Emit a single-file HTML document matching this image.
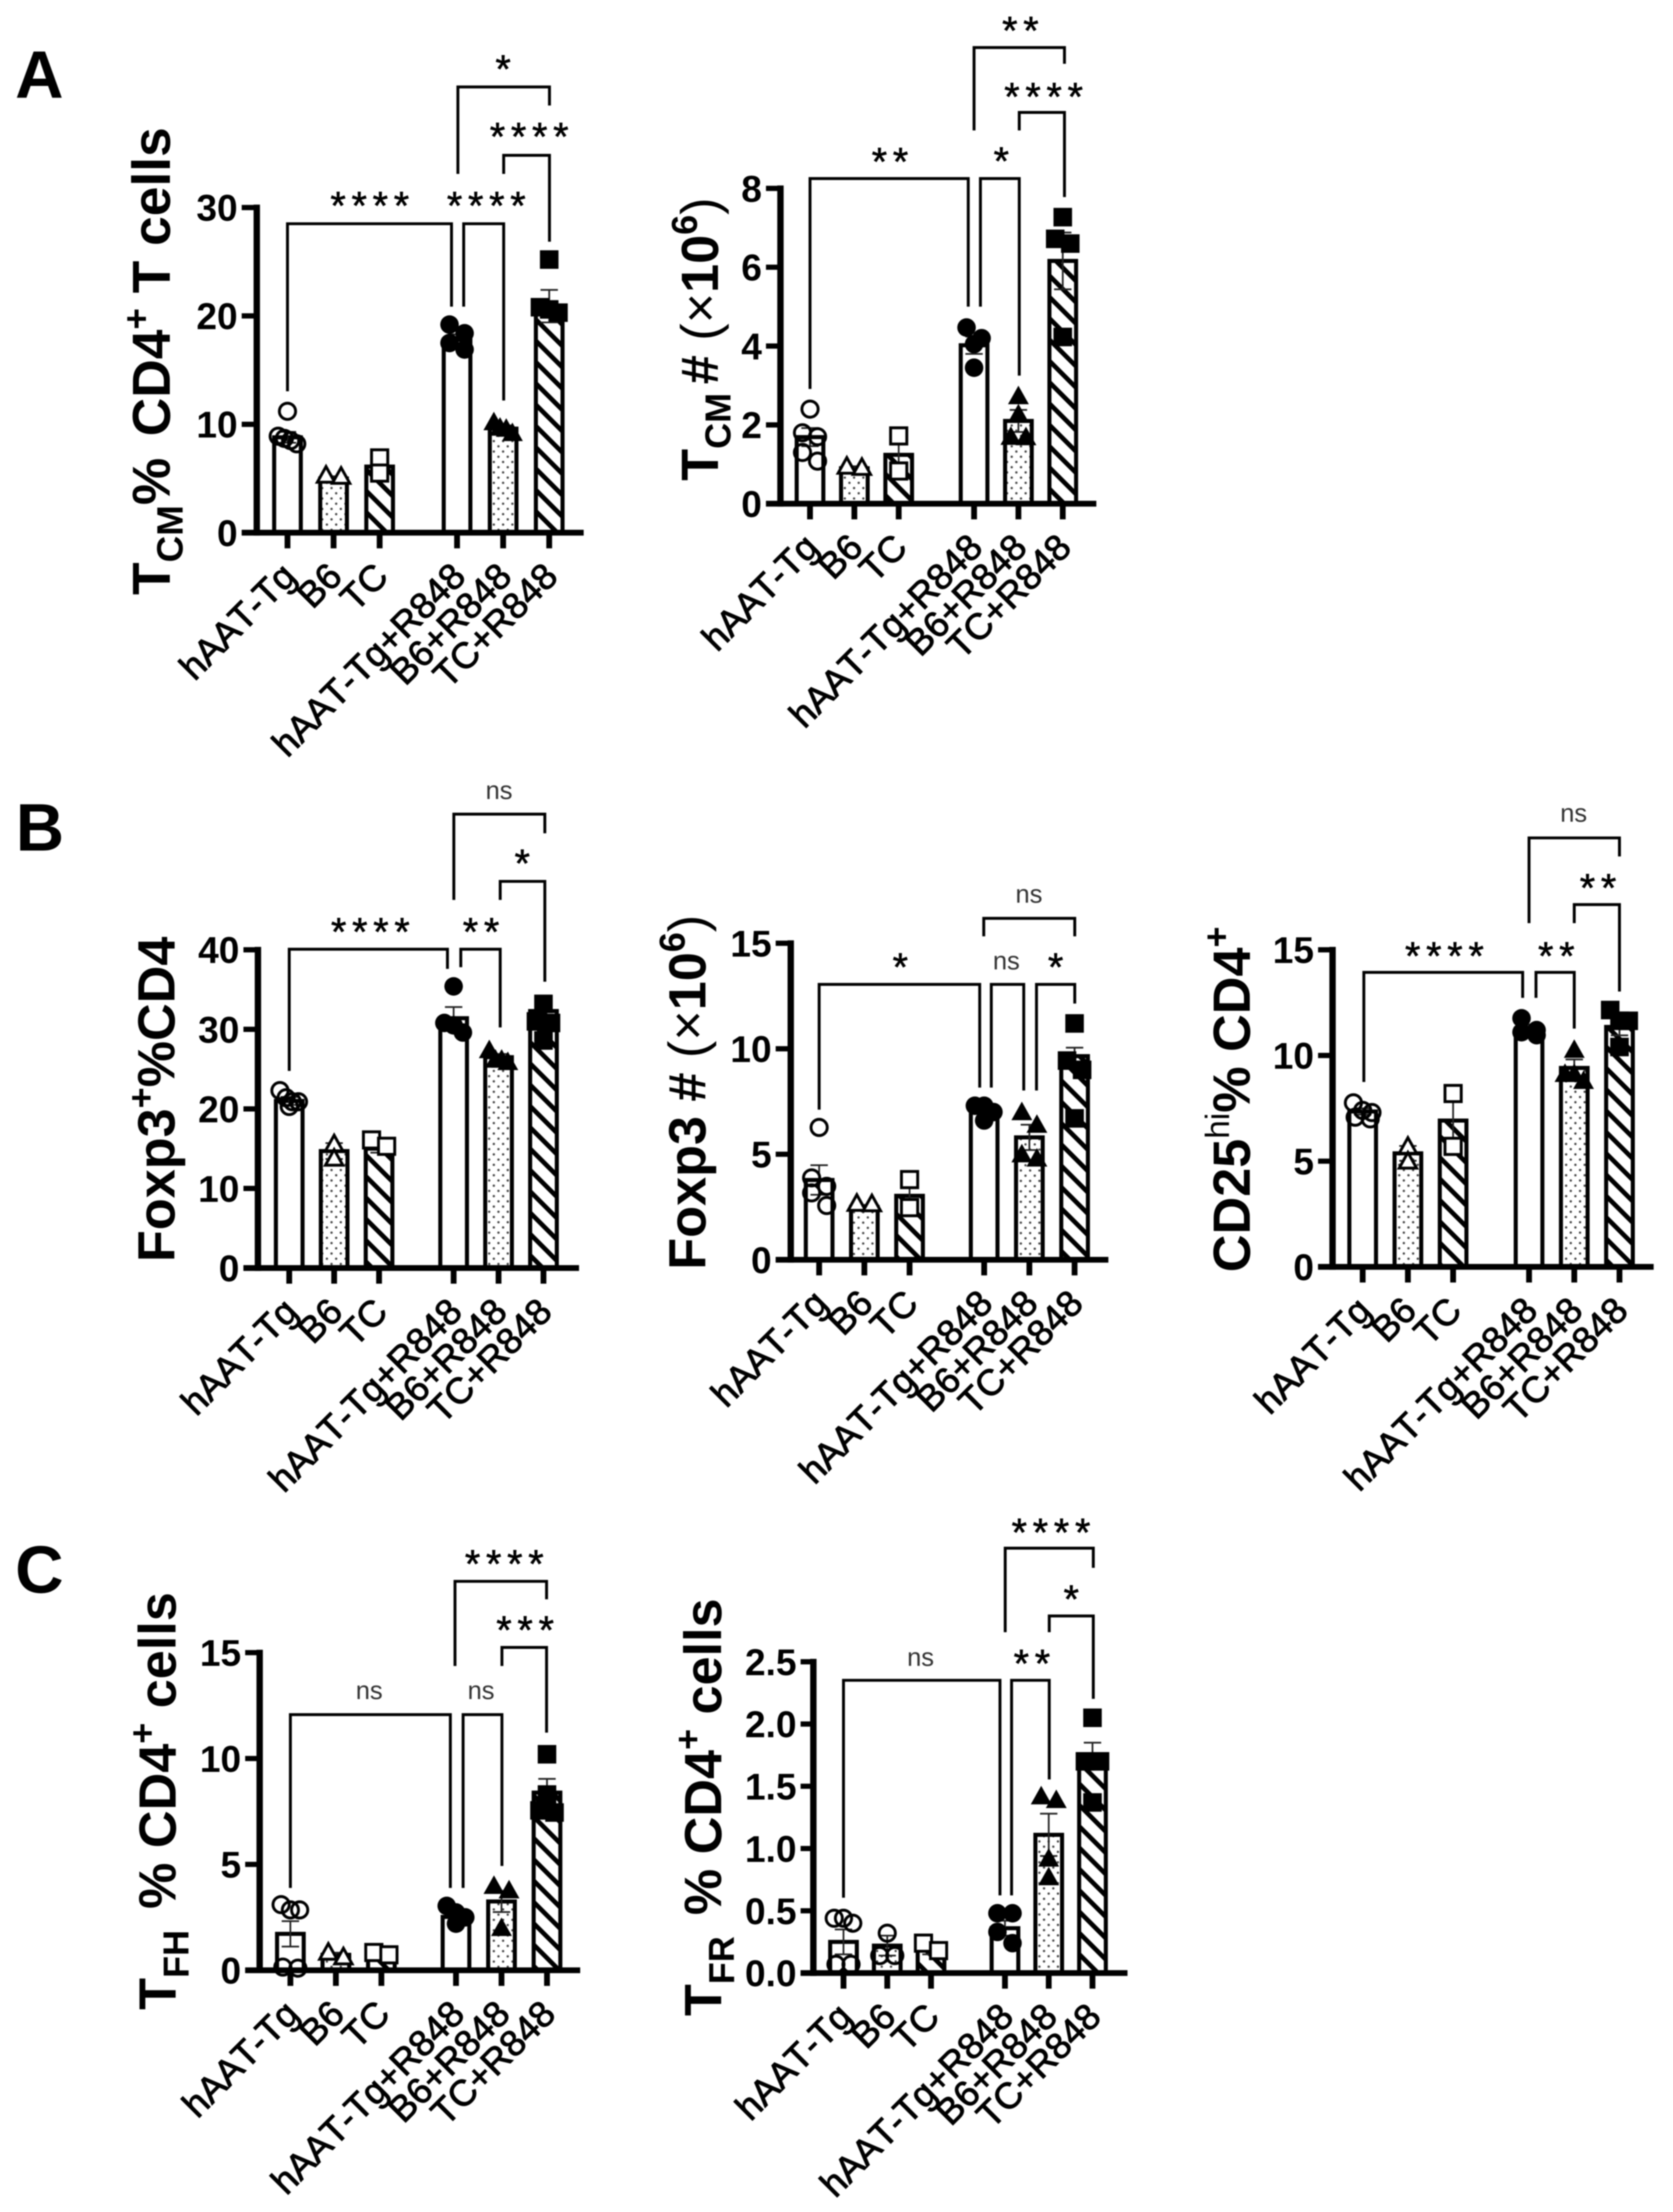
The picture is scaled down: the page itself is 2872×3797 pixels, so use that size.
<!DOCTYPE html>
<html lang="en">
<head>
<meta charset="utf-8">
<title>T cell subset bar charts</title>
<style>
html,body{margin:0;padding:0;background:#fff;}
#figure{display:block;width:2872px;height:3797px;filter:blur(1px);font-family:"Liberation Sans",sans-serif;}
</style>
</head>
<body>
<svg id="figure" xmlns="http://www.w3.org/2000/svg" width="2872" height="3797" viewBox="0 0 2872 3797">
  <defs>
    <pattern id="hatch-fill" patternUnits="userSpaceOnUse" width="26" height="26" patternTransform="rotate(-45)">
      <rect x="0" y="0" width="26" height="26" fill="#fff"/>
      <rect x="0" y="0" width="8" height="26" fill="#000"/>
    </pattern>
    <pattern id="dots-fill" patternUnits="userSpaceOnUse" width="16" height="18">
      <rect x="0" y="0" width="16" height="18" fill="#fff"/>
      <circle cx="4" cy="5" r="2" fill="#444"/>
      <circle cx="12" cy="14" r="2" fill="#444"/>
    </pattern>
  </defs>
  <text x="26" y="168" font-size="115" font-weight="bold">A</text>
  <text x="27" y="1460" font-size="115" font-weight="bold">B</text>
  <text x="26" y="2734" font-size="115" font-weight="bold">C</text>
</svg>
<script>
const categories = ['hAAT-Tg', 'B6', 'TC', 'hAAT-Tg+R848', 'B6+R848', 'TC+R848'];

const tcmPercentTicks = ['0', '10', '20', '30'];
const tcmPercentMeans = [8.8, 5.0, 6.1, 17.8, 9.6, 20.9];
const tcmPercentErrors = [0.5, 0.2, 0.7, 0.5, 0.3, 1.5];
const tcmPercentPoints = [
  [11.2, 8.9, 8.7, 8.5, 8.2],
  [5.3, 5.2],
  [6.9, 5.5],
  [19.2, 18.4, 17.5, 16.9],
  [10.2, 9.7, 9.6, 9.2],
  [25.2, 20.8, 20.6, 20.3]
];

const tcmCountTicks = ['0', '2', '4', '6', '8'];
const tcmCountMeans = [1.69, 0.9, 1.24, 4.02, 2.1, 6.16];
const tcmCountErrors = [0.23, 0.05, 0.46, 0.22, 0.28, 0.72];
const tcmCountPoints = [
  [2.4, 1.8, 1.7, 1.3, 1.08],
  [0.95, 0.92],
  [1.72, 0.83],
  [4.47, 4.2, 4.05, 3.45],
  [2.73, 2.27, 1.7, 1.69],
  [7.27, 6.72, 6.6, 4.23]
];

const foxp3PercentTicks = ['0', '10', '20', '30', '40'];
const foxp3PercentMeans = [21.0, 14.7, 15.0, 31.4, 26.5, 32.3];
const foxp3PercentErrors = [0.5, 1.0, 0.5, 1.4, 0.4, 1.2];
const foxp3PercentPoints = [
  [22.3, 21.4, 20.9, 20.9, 20.3],
  [15.6, 13.8],
  [16.1, 15.3],
  [35.4, 30.8, 30.5, 29.6],
  [27.4, 26.2, 26.2, 25.9],
  [33.2, 31.0, 30.8, 28.6]
];

const foxp3CountTicks = ['0', '5', '10', '15'];
const foxp3CountMeans = [3.78, 2.5, 3.03, 7.1, 5.8, 9.65];
const foxp3CountErrors = [0.7, 0.1, 0.4, 0.15, 0.6, 0.4];
const foxp3CountPoints = [
  [6.27, 3.88, 3.48, 3.17, 2.57],
  [2.67, 2.65],
  [3.8, 2.47],
  [7.3, 7.3, 7.0, 6.6],
  [7.0, 6.4, 5.0, 4.8],
  [11.2, 9.44, 9.0, 6.7]
];

const cd25Ticks = ['0', '5', '10', '15'];
const cd25Means = [7.35, 5.37, 6.92, 11.26, 9.41, 11.35];
const cd25Errors = [0.15, 0.35, 0.9, 0.2, 0.4, 0.4];
const cd25Points = [
  [7.76, 7.4, 7.3, 7.08, 7.0],
  [5.7, 5.0],
  [8.2, 5.7],
  [11.76, 11.2, 11.1, 10.96],
  [10.27, 9.13, 9.13, 8.8],
  [12.15, 11.64, 11.64, 10.4]
];

const tfhTicks = ['0', '5', '10', '15'];
const tfhMeans = [1.72, 0.73, 0.8, 2.52, 3.25, 8.39];
const tfhErrors = [0.6, 0.1, 0.1, 0.2, 0.5, 0.65];
const tfhPoints = [
  [3.1, 2.85, 2.85, 0.15, 0.1],
  [0.85, 0.63],
  [0.84, 0.73],
  [3.04, 2.73, 2.5, 2.2],
  [3.99, 3.78, 2.0],
  [10.2, 8.3, 7.55, 7.45]
];

const tfrTicks = ['0.0', '0.5', '1.0', '1.5', '2.0', '2.5'];
const tfrMeans = [0.25, 0.22, 0.2, 0.36, 1.11, 1.75];
const tfrErrors = [0.1, 0.08, 0.05, 0.06, 0.17, 0.1];
const tfrPoints = [
  [0.44, 0.44, 0.4, 0.07, 0.07],
  [0.32, 0.14, 0.14],
  [0.24, 0.18],
  [0.48, 0.48, 0.33, 0.24],
  [1.42, 1.39, 0.92, 0.77],
  [2.05, 1.7, 1.7, 1.37]
];

const markerShapes = ['circleOpen', 'triangleOpen', 'squareOpen', 'circle', 'triangle', 'square'];
const tfrMarkerShapes = ['circleOpen', 'circleOpen', 'squareOpen', 'circle', 'triangle', 'square'];
const barFills = ['#fff', 'url(#dots-fill)', 'url(#hatch-fill)', '#fff', 'url(#dots-fill)', 'url(#hatch-fill)'];

const panels = [
  { id: 'tcm-percent', ticks: tcmPercentTicks, means: tcmPercentMeans, errors: tcmPercentErrors, points: tcmPercentPoints, shapes: markerShapes,
    layout: { originX: 0, originY: 0, axisX: 443, top: 358, bottom: 919, tickLeft: 417, right: 1007, x0: 496, step: 79.5, gap: 0.68, titleX: 293, titleY: 623, titleSize: 92 },
    title: [['T','n'],['CM','sub'],['%','n'],[' ','gap'],['CD4','n'],['+','sup'],[' T cells','n']],
    brackets: [
      [496, 779, 386, 675, 529, '****', 638, 344],
      [800, 869, 386, 529, 691, '****', 839, 344],
      [790, 948, 150, 300, 182, '*', 868, 108],
      [869, 948, 268, 300, 417, '****', 913, 225]
    ] },
  { id: 'tcm-count', ticks: tcmCountTicks, means: tcmCountMeans, errors: tcmCountErrors, points: tcmCountPoints, shapes: markerShapes,
    layout: { originX: 1100, originY: 0, axisX: 1341, top: 325, bottom: 869, tickLeft: 1316, right: 1886, x0: 1392, step: 76.5, gap: 0.7, titleX: 1233, titleY: 585, titleSize: 90 },
    title: [['T','n'],['CM','sub'],[' ','thin'],['# ','n'],['(×','r'],['10','n'],['6','sup'],[')','r']],
    brackets: [
      [1392, 1665, 308, 671, 529, '**', 1530, 268],
      [1686, 1753, 308, 529, 648, '*', 1722, 267],
      [1675, 1831, 82, 225, 110, '**', 1755, 42],
      [1753, 1831, 194, 225, 340, '****', 1795, 156]
    ] },
  { id: 'foxp3-percent', ticks: foxp3PercentTicks, means: foxp3PercentMeans, errors: foxp3PercentErrors, points: foxp3PercentPoints, shapes: markerShapes,
    layout: { originX: 0, originY: 1300, axisX: 445, top: 1632, bottom: 2181, tickLeft: 420, right: 999, x0: 499, step: 77.5, gap: 0.66, titleX: 301, titleY: 1890, titleSize: 90 },
    title: [['Foxp3','n'],['+','sup'],['%CD4','n']],
    brackets: [
      [499, 772, 1631, 1841, 1665, '****', 639, 1590],
      [795, 863, 1631, 1662, 1766, '**', 830, 1590],
      [783, 940, 1398, 1546, 1431, 'ns', 861, 1357],
      [863, 940, 1514, 1546, 1687, '*', 901, 1472]
    ] },
  { id: 'foxp3-count', ticks: foxp3CountTicks, means: foxp3CountMeans, errors: foxp3CountErrors, points: foxp3CountPoints, shapes: markerShapes,
    layout: { originX: 1050, originY: 1450, axisX: 1359, top: 1620, bottom: 2166, tickLeft: 1333, right: 1907, x0: 1408, step: 78, gap: 0.65, titleX: 1212, titleY: 1877, titleSize: 90 },
    title: [['Foxp3 # ','n'],['(×','r'],['10','n'],['6','sup'],[')','r']],
    brackets: [
      [1408, 1685, 1691, 1907, 1869, '*', 1548, 1650],
      [1705, 1761, 1691, 1869, 1874, 'ns', 1731, 1650],
      [1783, 1849, 1691, 1874, 1724, '*', 1816, 1650],
      [1692, 1849, 1577, 1608, 1608, 'ns', 1770, 1535]
    ] },
  { id: 'cd25-percent', ticks: cd25Ticks, means: cd25Means, errors: cd25Errors, points: cd25Points, shapes: markerShapes,
    layout: { originX: 2000, originY: 1300, axisX: 2289, top: 1632, bottom: 2179, tickLeft: 2264, right: 2843, x0: 2341, step: 78, gap: 0.68, titleX: 2146, titleY: 1890, titleSize: 90 },
    title: [['CD25','n'],['hi','supr'],['% CD4','n'],['+','sup']],
    brackets: [
      [2343, 2617, 1671, 1860, 1715, '****', 2482, 1632],
      [2640, 2706, 1671, 1715, 1768, '**', 2675, 1632],
      [2628, 2784, 1439, 1586, 1471, 'ns', 2705, 1396],
      [2706, 2784, 1554, 1586, 1704, '**', 2747, 1514]
    ] },
  { id: 'tfh-percent', ticks: tfhTicks, means: tfhMeans, errors: tfhErrors, points: tfhPoints, shapes: markerShapes,
    layout: { originX: 0, originY: 2600, axisX: 448, top: 2838, bottom: 3386, tickLeft: 423, right: 1001, x0: 501, step: 78.5, gap: 0.64, titleX: 303, titleY: 3094, titleSize: 90 },
    title: [['T','n'],['FH','sub'],[' ','gap'],['% CD4','n'],['+','sup'],[' cells','n']],
    brackets: [
      [501, 777, 2945, 3244, 3244, 'ns', 637, 2903],
      [799, 866, 2945, 3244, 3206, 'ns', 830, 2903],
      [785, 943, 2715, 2861, 2746, '****', 870, 2674],
      [866, 943, 2829, 2861, 2976, '***', 906, 2788]
    ] },
  { id: 'tfr-percent', ticks: tfrTicks, means: tfrMeans, errors: tfrErrors, points: tfrPoints, shapes: tfrMarkerShapes,
    layout: { originX: 1050, originY: 2550, axisX: 1398, top: 2854, bottom: 3391, tickLeft: 1376, right: 1940, x0: 1450, step: 75.5, gap: 0.69, titleX: 1239, titleY: 3105, titleSize: 90 },
    title: [['T','n'],['FR','sub'],[' ','gap'],['% CD4','n'],['+','sup'],[' cells','n']],
    brackets: [
      [1450, 1720, 2886, 3261, 3257, 'ns', 1583, 2846],
      [1740, 1805, 2886, 3257, 3057, '**', 1775, 2846],
      [1729, 1881, 2658, 2803, 2692, '****', 1808, 2620],
      [1805, 1881, 2775, 2803, 2918, '*', 1843, 2735]
    ] }
];

const SVG_NS = 'http://www.w3.org/2000/svg';
const CROP_SCALE = 0.995;
const figure = document.getElementById('figure');

function svgEl(tag, attrs, parent) {
  const node = document.createElementNS(SVG_NS, tag);
  for (const key in attrs) node.setAttribute(key, attrs[key]);
  if (parent) parent.appendChild(node);
  return node;
}

function swarmOffsets(values, yOf) {
  const order = values.map((v, i) => i).sort((a, b) => values[b] - values[a]);
  const offsets = new Array(values.length).fill(0);
  let bin = [];
  const flush = () => {
    const step = bin.length > 1 ? Math.min(26, 32 / (bin.length - 1)) : 0;
    bin.forEach((idx, k) => { offsets[idx] = (k - (bin.length - 1) / 2) * step; });
    bin = [];
  };
  order.forEach((idx) => {
    if (bin.length && Math.abs(yOf(values[idx]) - yOf(values[bin[0]])) > 22) flush();
    bin.push(idx);
  });
  flush();
  return offsets;
}

function drawMarker(group, shape, cx, cy) {
  let marker;
  if (shape === 'circleOpen') marker = svgEl('circle', { cx: cx, cy: cy, r: 14, fill: 'none', stroke: '#000', 'stroke-width': 5 }, group);
  if (shape === 'circle') marker = svgEl('circle', { cx: cx, cy: cy, r: 16, fill: '#000' }, group);
  if (shape === 'squareOpen') marker = svgEl('rect', { x: cx - 14, y: cy - 14, width: 28, height: 28, fill: '#fff', stroke: '#000', 'stroke-width': 5 }, group);
  if (shape === 'square') marker = svgEl('rect', { x: cx - 16, y: cy - 16, width: 32, height: 32, fill: '#000' }, group);
  if (shape === 'triangleOpen') marker = svgEl('polygon', { points: (cx - 15) + ',' + (cy + 12) + ' ' + (cx + 15) + ',' + (cy + 12) + ' ' + cx + ',' + (cy - 15), fill: '#fff', stroke: '#000', 'stroke-width': 5 }, group);
  if (shape === 'triangle') marker = svgEl('polygon', { points: (cx - 18) + ',' + (cy + 14) + ' ' + (cx + 18) + ',' + (cy + 14) + ' ' + cx + ',' + (cy - 18), fill: '#000' }, group);
  
  
}

function drawTitle(group, segments, layout) {
  const size = layout.titleSize;
  const title = svgEl('text', {
    transform: 'translate(' + layout.titleX + ',' + layout.titleY + ') rotate(-90)',
    'text-anchor': 'middle', 'font-size': size, 'font-weight': 'bold', fill: '#000'
  }, group);
  
  
  title.setAttribute('xml:space', 'preserve');
  title.style.whiteSpace = 'pre';
  let shift = 0;
  segments.forEach((seg) => {
    const span = svgEl('tspan', {}, title);
    span.textContent = seg[0];
    let target = 0;
    if (seg[1] === 'sub') { span.setAttribute('font-size', size * 0.69); target = 22; }
    if (seg[1] === 'sup') { span.setAttribute('font-size', size * 0.69); target = -36; }
    if (seg[1] === 'supr') { span.setAttribute('font-size', size * 0.64); span.setAttribute('font-weight', 'normal'); target = -36; }
    if (seg[1] === 'r') { span.setAttribute('font-weight', 'normal'); }
    if (seg[1] === 'gap') { span.setAttribute('font-size', size * 1.45); }
    if (seg[1] === 'thin') { span.setAttribute('font-size', size * 0.6); }
    span.setAttribute('dy', target - shift);
    shift = target;
  });
}

panels.forEach((panel) => {
  const L = panel.layout;
  const yMax = Number(panel.ticks[panel.ticks.length - 1]);
  const yOf = (v) => L.bottom - (v / yMax) * (L.bottom - L.top);
  const xOf = (i) => L.x0 + L.step * (i < 3 ? i : i + L.gap);

  const chart = svgEl('g', {
    transform: 'translate(' + (L.originX * (1 - CROP_SCALE)) + ',' + (L.originY * (1 - CROP_SCALE)) + ') scale(' + CROP_SCALE + ')'
  }, figure);
  
  

  drawTitle(chart, panel.title, L);

  panel.means.forEach((mean, i) => {
    const bar = svgEl('rect', {
      x: xOf(i) - 23, y: yOf(mean), width: 46, height: L.bottom - yOf(mean),
      fill: barFills[i], stroke: '#000', 'stroke-width': 7
    }, chart);
    
    
  });

  panel.errors.forEach((err, i) => {
    const cx = xOf(i);
    const hi = yOf(panel.means[i] + err);
    const lo = yOf(panel.means[i] - err);
    const bars = svgEl('path', {
      d: 'M' + cx + ' ' + hi + 'V' + lo + 'M' + (cx - 15) + ' ' + hi + 'H' + (cx + 15) + 'M' + (cx - 15) + ' ' + lo + 'H' + (cx + 15),
      fill: 'none', stroke: '#222', 'stroke-width': 3
    }, chart);
    
    
  });

  panel.points.forEach((values, i) => {
    const offsets = swarmOffsets(values, yOf);
    values.forEach((v, k) => drawMarker(chart, panel.shapes[i], xOf(i) + offsets[k], yOf(v)));
  });

  const yAxis = svgEl('line', { x1: L.axisX, x2: L.axisX, y1: L.top - 5, y2: L.bottom + 5, stroke: '#000', 'stroke-width': 11 }, chart);
  
  

  const xAxis = svgEl('line', { x1: L.tickLeft, x2: L.right, y1: L.bottom, y2: L.bottom, stroke: '#000', 'stroke-width': 10 }, chart);
  
  

  panel.ticks.forEach((label) => {
    const y = yOf(Number(label));
    const tick = svgEl('line', { x1: L.tickLeft, x2: L.axisX, y1: y, y2: y, stroke: '#000', 'stroke-width': 9 }, chart);
    
    
    const text = svgEl('text', { x: L.tickLeft - 7, y: y + 23, 'text-anchor': 'end', 'font-size': 64, 'font-weight': 'bold', fill: '#000' }, chart);
    text.textContent = label;
    
    
  });

  categories.forEach((name, i) => {
    const cx = xOf(i);
    const tick = svgEl('line', { x1: cx, x2: cx, y1: L.bottom, y2: L.bottom + 27, stroke: '#000', 'stroke-width': 10 }, chart);
    
    
    const text = svgEl('text', {
      transform: 'translate(' + (cx + 18) + ',' + (L.bottom + 79) + ') rotate(-45)',
      'text-anchor': 'end', 'font-size': 63, fill: '#000', stroke: '#000', 'stroke-width': 1.5
    }, chart);
    text.style.fontKerning = 'none';
    text.textContent = name;
    
    
  });

  panel.brackets.forEach((b) => {
    const line = svgEl('path', {
      d: 'M' + b[0] + ' ' + b[3] + 'V' + b[2] + 'H' + b[1] + 'V' + b[4],
      fill: 'none', stroke: '#000', 'stroke-width': 5
    }, chart);
    
    
    const isNs = b[5] === 'ns';
    const label = svgEl('text', {
      x: isNs ? b[6] : b[6] + 5, y: isNs ? b[7] + 15 : b[7] + 34, 'text-anchor': 'middle',
      'font-size': isNs ? 44 : 68, fill: isNs ? '#333' : '#000'
    }, chart);
    if (!isNs) {
      label.setAttribute('letter-spacing', '10');
      label.setAttribute('stroke', '#000');
      label.setAttribute('stroke-width', '1');
    }
    label.textContent = b[5];
    
    
  });
});
</script>
</body>
</html>
